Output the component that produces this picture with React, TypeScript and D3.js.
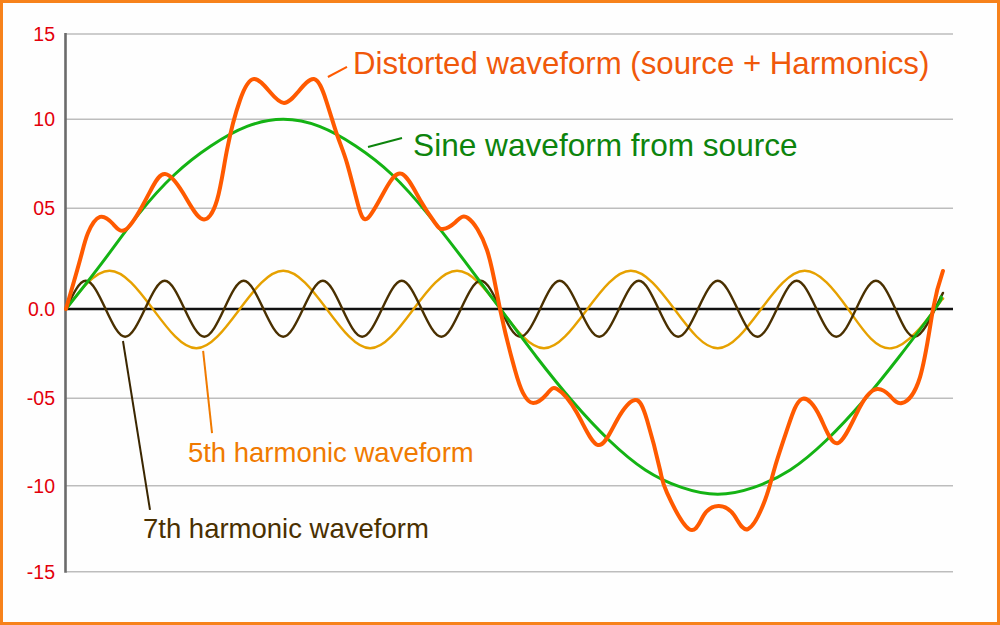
import React from "react";
import * as d3 from "d3";

// y tick labels as printed on the chart (note the "05" style)
const tickValues = [15, 10, 5, 0, -5, -10, -15];
const tickLabels = ["15", "10", "05", "0.0", "-05", "-10", "-15"];

// Sine waveform from source (phase in degrees)
const sineDeg = [0, 15, 30, 45, 60, 75, 90, 105, 120, 135, 150, 165, 180, 195, 210, 225, 240, 255, 270, 285, 300, 315, 330, 345, 360, 362.5];
const sineVal = [0, 2.3, 4.7, 6.9, 8.5, 9.6, 10.0, 9.6, 8.5, 6.9, 4.7, 2.4, 0, -2.7, -5.2, -7.4, -9.1, -10.1, -10.5, -10.1, -9.1, -7.4, -5.2, -2.7, 0, 0.6];

// 5th harmonic
const fifthDeg = [0, 18, 36, 54, 72, 90, 108, 126, 144, 162, 180, 198, 216, 234, 252, 270, 288, 306, 324, 342, 360, 363.3];
const fifthVal = [0, 1.9, 0, -2.2, 0, 1.9, 0, -2.2, 0, 1.9, 0, -2.2, 0, 1.9, 0, -2.2, 0, 1.9, 0, -2.2, 0, 0.5];

// 7th harmonic
const seventhDeg = [0, 8.2, 16.4, 24.5, 32.7, 40.9, 49.1, 57.3, 65.5, 73.6, 81.8, 90, 98.2, 106.4, 114.5, 122.7, 130.9, 139.1, 147.3, 155.5, 163.6, 171.8, 180, 188.2, 196.4, 204.5, 212.7, 220.9, 229.1, 237.3, 245.5, 253.6, 261.8, 270, 278.2, 286.4, 294.5, 302.7, 310.9, 319.1, 327.3, 335.5, 343.6, 351.8, 360, 363.3];
const seventhVal = [0, 1.4, 0, -1.55, 0, 1.4, 0, -1.55, 0, 1.4, 0, -1.55, 0, 1.4, 0, -1.55, 0, 1.4, 0, -1.55, 0, 1.4, 0, -1.55, 0, 1.4, 0, -1.55, 0, 1.4, 0, -1.55, 0, 1.4, 0, -1.55, 0, 1.4, 0, -1.55, 0, 1.4, 0, -1.55, 0, 0.8];

// Distorted waveform (source + harmonics), read at its turning points
const distDeg = [0, 5.8, 9.1, 14.1, 19.5, 24.4, 30.7, 35.6, 41.0, 48.5, 56.3, 62.6, 66.7, 72.1, 77.9, 84.5, 90.3, 96.1, 102.7, 107.7, 112.3, 116.4, 121.0, 125.1, 132.2, 139.2, 146.7, 152.9, 156.2, 161.2, 166.5, 174.4, 179.8, 186.0, 189.3, 193.5, 199.3, 203.4, 211.7, 220.4, 228.3, 235.7, 240.7, 246.1, 249.0, 258.1, 264.3, 270.5, 276.7, 282.5, 289.6, 293.7, 299.1, 304.9, 312.4, 319.8, 328.9, 336.0, 341.4, 346.3, 353.8, 359.2, 363.3];
const distVal = [0, 2.43, 3.77, 4.57, 4.22, 3.92, 4.92, 6.14, 6.93, 5.86, 4.47, 5.47, 8.28, 11.13, 12.36, 11.6, 10.96, 11.6, 12.36, 11.13, 9.12, 7.54, 5.19, 4.52, 6.03, 6.93, 5.47, 4.27, 3.97, 4.3, 4.52, 2.93, 0, -3.42, -4.7, -5.27, -4.75, -4.48, -5.84, -7.67, -6.24, -5.1, -6.24, -9.1, -10.42, -12.52, -11.7, -11.18, -11.7, -12.52, -10.83, -8.93, -6.64, -5.04, -6.07, -7.56, -5.5, -4.48, -4.87, -5.27, -3.81, 0, 1.89];

const W = 1000;
const H = 625;
const AXIS_X = 66;
const GRID_RIGHT = 953;

const x = d3.scaleLinear().domain([0, 360]).range([AXIS_X, 935]);
// the drawing's gridlines are not evenly spaced, so the scale is piecewise
const y = d3
  .scaleLinear()
  .domain([-15, -10, -5, 0, 5, 10, 15])
  .range([571.7, 485.7, 398.3, 309, 208.3, 119.3, 34]);

const series = [
  { deg: fifthDeg, val: fifthVal, color: "#e6a100", width: 2.4 },
  { deg: seventhDeg, val: seventhVal, color: "#4a3000", width: 2.4 },
  { deg: sineDeg, val: sineVal, color: "#14b314", width: 3 },
  { deg: distDeg, val: distVal, color: "#ff5a00", width: 4 },
];

// annotations: text anchor + leader line, in chart units
const notes = [
  { text: "Distorted waveform (source + Harmonics)", tx: 118.9, ty: 12.66, l: [108.5, 12.48, 116.4, 13.07], color: "#f0580a", lineColor: "#ff5a00", size: 31.2 },
  { text: "Sine waveform from source", tx: 143.8, ty: 7.94, l: [125.1, 8.44, 139.2, 8.95], color: "#0d840d", lineColor: "#0d840d", size: 31.6 },
  { text: "5th harmonic waveform", tx: 50.5, ty: -8.64, l: [56.8, -2.35, 60.5, -6.99], color: "#f07a00", lineColor: "#f07a00", size: 27.5 },
  { text: "7th harmonic waveform", tx: 31.9, ty: -13.04, l: [23.6, -1.79, 34.8, -11.41], color: "#4a3000", lineColor: "#3a2600", size: 27.5 },
];

export default function App() {
  const lines = series.map((s) =>
    d3
      .line<number>()
      .x((d) => x(d))
      .y((_, i) => y(s.val[i]))
      .curve(d3.curveNatural)(s.deg)
  );

  return (
    <svg
      width={W}
      height={H}
      viewBox={`0 0 ${W} ${H}`}
      style={{ position: "absolute", left: 0, top: 0, fontFamily: "'Liberation Sans', Arial, Helvetica, sans-serif" }}
    >
      <rect x={1.5} y={1.5} width={W - 3} height={H - 3} fill="#fefefe" stroke="#f7821b" strokeWidth={3} />

      {/* gridlines */}
      <g>
        {tickValues.filter((v) => v !== 0).map((v) => (
          <line key={v} x1={AXIS_X} x2={GRID_RIGHT} y1={y(v)} y2={y(v)} stroke="#bdbdbd" strokeWidth={1.6} />
        ))}
      </g>

      {/* tick labels */}
      <g fill="#e3000b" fontSize={19.5} textAnchor="end">
        {tickValues.map((v, i) => (
          <text key={v} x={55} y={y(v)} dy="0.36em">
            {tickLabels[i]}
          </text>
        ))}
      </g>

      <line x1={AXIS_X} x2={GRID_RIGHT} y1={y(0)} y2={y(0)} stroke="#111" strokeWidth={2.6} />
      <line x1={AXIS_X - 0.5} x2={AXIS_X - 0.5} y1={y(15) - 1} y2={y(-15) + 1} stroke="#6b6b6b" strokeWidth={2.6} />

      {series.map((s, i) => (
        <path key={i} d={lines[i] ?? ""} fill="none" stroke={s.color} strokeWidth={s.width} strokeLinejoin="round" strokeLinecap="round" />
      ))}

      {notes.map((n) => (
        <g key={n.text}>
          <line x1={x(n.l[0])} y1={y(n.l[1])} x2={x(n.l[2])} y2={y(n.l[3])} stroke={n.lineColor} strokeWidth={2} />
          <text x={x(n.tx)} y={y(n.ty)} fill={n.color} fontSize={n.size}>
            {n.text}
          </text>
        </g>
      ))}
    </svg>
  );
}
